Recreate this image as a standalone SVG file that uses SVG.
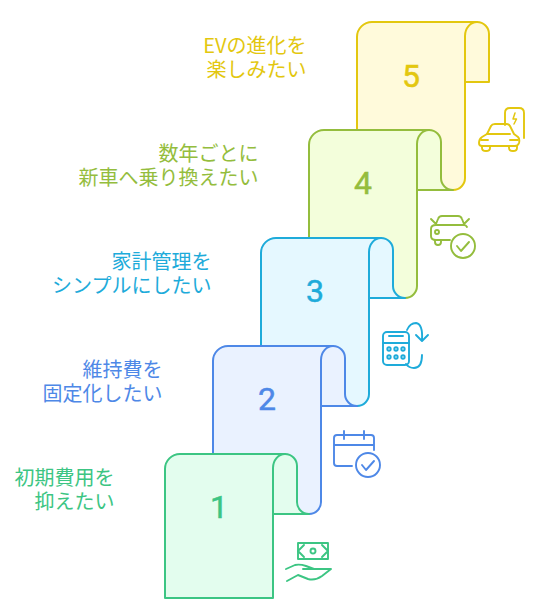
<svg xmlns="http://www.w3.org/2000/svg" width="543" height="615" viewBox="0 0 543 615">
<style>
.card{stroke-width:2;stroke-linejoin:round;stroke-linecap:round}
.ic{fill:none;stroke-width:1.900;stroke-linecap:round;stroke-linejoin:round}
.n{font-family:Roboto,"Liberation Sans",sans-serif;font-size:32px;font-weight:400;text-anchor:middle;stroke-width:.5}
.t{font-family:"Noto Sans CJK JP","Noto Sans",sans-serif;font-size:20px;text-anchor:end}
.c5{fill:#fffadb;stroke:#e3c70f}.c4{fill:#f3fedb;stroke:#94bd3d}.c3{fill:#e5f8ff;stroke:#1eabda}.c2{fill:#eaf2ff;stroke:#4e88e7}.c1{fill:#e3fdee;stroke:#3cc583}
.i5{stroke:#e3c70f}.i4{stroke:#94bd3d}.i3{stroke:#1eabda}.i2{stroke:#4e88e7}.i1{stroke:#3cc583}
</style>
<g id="connectors"></g>
<g id="node5">
<path class="card c5" d="M372 22H477A12 12 0 0 1 489 34V82H465V178A12 12 0 0 1 453 190H417V130H357V37A15 15 0 0 1 372 22Z"/>
<path class="card c5" d="M465 82V36A12 14 0 0 1 477 22" fill="none"/>
<text class="n" x="411" y="87" fill="#e3c70f" stroke="#e3c70f">5</text>
<text class="t" fill="#e3c70f"><tspan x="306.500" y="53">EVの進化を</tspan><tspan x="306.500" y="77">楽しみたい</tspan></text>
<g class="ic i5"><path d="M505 125V113Q505 108 510 108H519Q524 108 524 113V138"/><path d="M515 113L513 119H516.500L514 124" stroke-width="1.500"/><path d="M479 143Q479 139 482 137L487 134L491 126Q492 124 495 124H506Q509 124 510 126L514 134L518 137Q520 139 519 143Q518 146 515 146H482Q479 146 479 143Z"/><path d="M487 134H510M481 140H488M510 140H518M482 146V148Q482 151 486 151Q490 151 490 148V146M509 146V148Q509 151 513 151Q517 151 517 148V146"/></g>
</g>
<g id="node4">
<path class="card c4" d="M324 130H429A12 12 0 0 1 441 142V178A12 12 0 0 0 453 190H417V286A12 12 0 0 1 405 298H369V238H309V145A15 15 0 0 1 324 130Z"/>
<path class="card c4" d="M417 190V144A12 14 0 0 1 429 130" fill="none"/>
<text class="n" x="363" y="194" fill="#94bd3d" stroke="#94bd3d">4</text>
<text class="t" fill="#94bd3d"><tspan x="258.500" y="161">数年ごとに</tspan><tspan x="258.500" y="185">新車へ乗り換えたい</tspan></text>
<g class="ic i4"><path d="M436 224L438 219Q439 216 442 216H458Q461 216 462 219L464 224M431 219L436 224M469 219L464 224M450 240H436Q431 240 431 236V229Q431 225 436 225H464Q466 225 467 227"/><path d="M435 240V242Q435 245 438 245Q441 245 441 242V240"/><circle cx="437" cy="232" r="2"/><circle cx="463" cy="246" r="12"/><path d="M457 246L461 251L469 242"/></g>
</g>
<g id="node3">
<path class="card c3" d="M276 238H381A12 12 0 0 1 393 250V286A12 12 0 0 0 405 298H369V394A12 12 0 0 1 357 406H321V346H261V253A15 15 0 0 1 276 238Z"/>
<path class="card c3" d="M369 298V252A12 14 0 0 1 381 238" fill="none"/>
<text class="n" x="315" y="302" fill="#1eabda" stroke="#1eabda">3</text>
<text class="t" fill="#1eabda"><tspan x="211.500" y="269">家計管理を</tspan><tspan x="211.500" y="293">シンプルにしたい</tspan></text>
<g class="ic i3"><rect x="383" y="332" width="26" height="33" rx="4"/><path d="M383 343H409M389 336H403"/><circle cx="389" cy="349" r="1.700"/><circle cx="396" cy="349" r="1.700"/><circle cx="403" cy="349" r="1.700"/><circle cx="389" cy="357" r="1.700"/><circle cx="396" cy="357" r="1.700"/><circle cx="403" cy="357" r="1.700"/><path d="M407 330Q410 323 416 323Q423 324 422 340M416 335L422 341L428 335M422 355Q422 368 414 368Q409 368 406 364"/></g>
</g>
<g id="node2">
<path class="card c2" d="M228 346H333A12 12 0 0 1 345 358V394A12 12 0 0 0 357 406H321V502A12 12 0 0 1 309 514H273V454H213V361A15 15 0 0 1 228 346Z"/>
<path class="card c2" d="M321 406V360A12 14 0 0 1 333 346" fill="none"/>
<text class="n" x="267" y="410" fill="#4e88e7" stroke="#4e88e7">2</text>
<text class="t" fill="#4e88e7"><tspan x="162.500" y="377">維持費を</tspan><tspan x="162.500" y="401">固定化したい</tspan></text>
<g class="ic i2"><path d="M352 466H337Q334 466 334 463V438Q334 435 337 435H371Q374 435 374 438V450M334 445H374M344 431V439M364 431V439"/><circle cx="368" cy="465" r="12"/><path d="M362 465L366 470L374 461"/></g>
</g>
<g id="node1">
<path class="card c1" d="M180 454H285A12 12 0 0 1 297 466V502A12 12 0 0 0 309 514H273V598H165V469A15 15 0 0 1 180 454Z"/>
<path class="card c1" d="M273 514V468A12 14 0 0 1 285 454" fill="none"/>
<text class="n" x="219" y="518" fill="#3cc583" stroke="#3cc583">1</text>
<text class="t" fill="#3cc583"><tspan x="114.500" y="485">初期費用を</tspan><tspan x="114.500" y="509">抑えたい</tspan></text>
<g class="ic i1"><rect x="298" y="543" width="30" height="16"/><circle cx="313" cy="551" r="2.500"/><path d="M298 551L304 545M298 551L304 557M328 551L322 545M328 551L322 557"/><path d="M286 569L295 565Q300 564 306 566L314 569H303M314 569L331 569L322 576Q315 581 308 579L298 575L287 581"/></g>
</g>
</svg>
